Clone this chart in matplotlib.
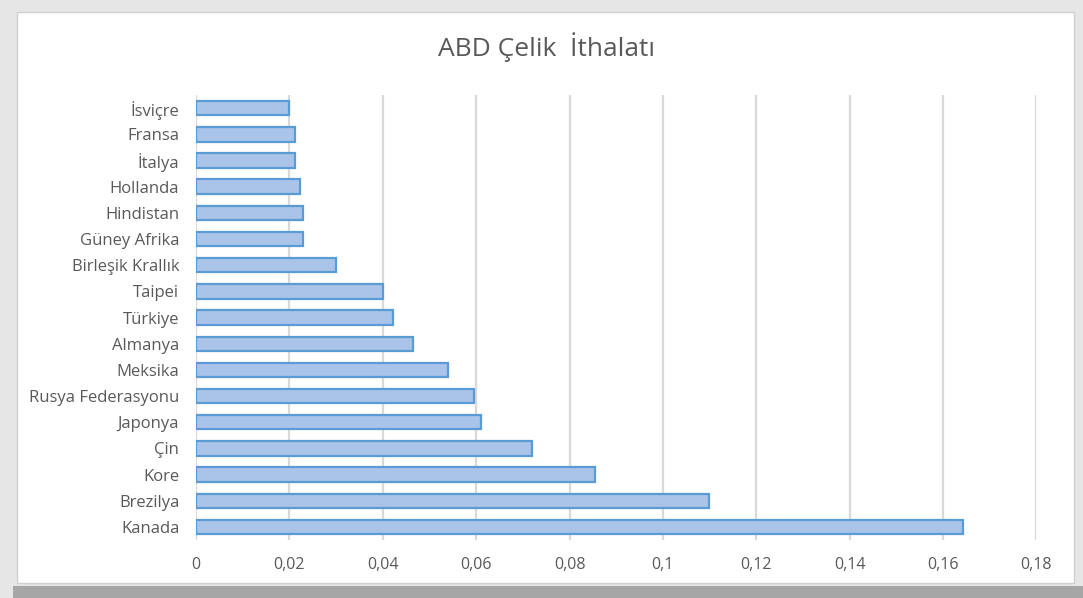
import matplotlib.pyplot as plt
from matplotlib.patches import Rectangle
from matplotlib.ticker import FuncFormatter

# veriler (grafikte yukarıdan aşağıya)
countries = ["İsviçre", "Fransa", "İtalya", "Hollanda", "Hindistan", "Güney Afrika",
             "Birleşik Krallık", "Taipei", "Türkiye", "Almanya", "Meksika",
             "Rusya Federasyonu", "Japonya", "Çin", "Kore", "Brezilya", "Kanada"]
shares = [0.0200, 0.0213, 0.0213, 0.0222, 0.0230, 0.0230,
          0.0299, 0.0400, 0.0421, 0.0464, 0.0539,
          0.0595, 0.0610, 0.0719, 0.0854, 0.1099, 0.1643]
xticks = [0, 0.02, 0.04, 0.06, 0.08, 0.1, 0.12, 0.14, 0.16, 0.18]

plt.rcParams['font.family'] = ['Open Sans', 'DejaVu Sans']
text_color = '#595959'

fig = plt.figure(figsize=(10.83, 5.98), dpi=100)

# çerçeve ve gölge
fig.patches.append(Rectangle((0, 0), 1, 1, transform=fig.transFigure,
                             facecolor='#e6e6e6', edgecolor='none', zorder=0))
fig.patches.append(Rectangle((0.012, 0.0), 0.988, 0.02, transform=fig.transFigure,
                             facecolor='#a6a6a6', edgecolor='none', zorder=0))
fig.patches.append(Rectangle((0.016, 0.025), 0.976, 0.955, transform=fig.transFigure,
                             facecolor='white', edgecolor='#d0d0d0', linewidth=1, zorder=1))

ax = fig.add_axes([0.181, 0.097, 0.776, 0.744])
ax.set_facecolor('none')
ax.set_zorder(5)

# alttan yukarı çiz
ys = list(range(len(countries)))[::-1]
ax.barh(ys, shares, height=0.55, color='#a9c4e8', edgecolor='#5b9bd5', linewidth=1.6, zorder=3)

ax.set_yticks(ys)
ax.set_yticklabels(countries, fontsize=12, color=text_color)
ax.set_ylim(-0.5, len(countries) - 0.5)

ax.set_xlim(0, 0.18)
ax.set_xticks(xticks)
ax.xaxis.set_major_formatter(FuncFormatter(lambda v, p: f'{v:g}'.replace('.', ',')))
ax.tick_params(axis='x', labelsize=11.5, labelcolor=text_color, length=0, pad=12)
ax.tick_params(axis='y', length=0, pad=12)

ax.grid(axis='x', color='#d9d9d9', linewidth=1.6)
ax.set_axisbelow(True)
for spine in ax.spines.values():
    spine.set_visible(False)

fig.text(0.505, 0.921, 'ABD Çelik  İthalatı', ha='center', va='center',
         fontsize=19, color=text_color, zorder=6)

plt.savefig('out.png', dpi=100)
